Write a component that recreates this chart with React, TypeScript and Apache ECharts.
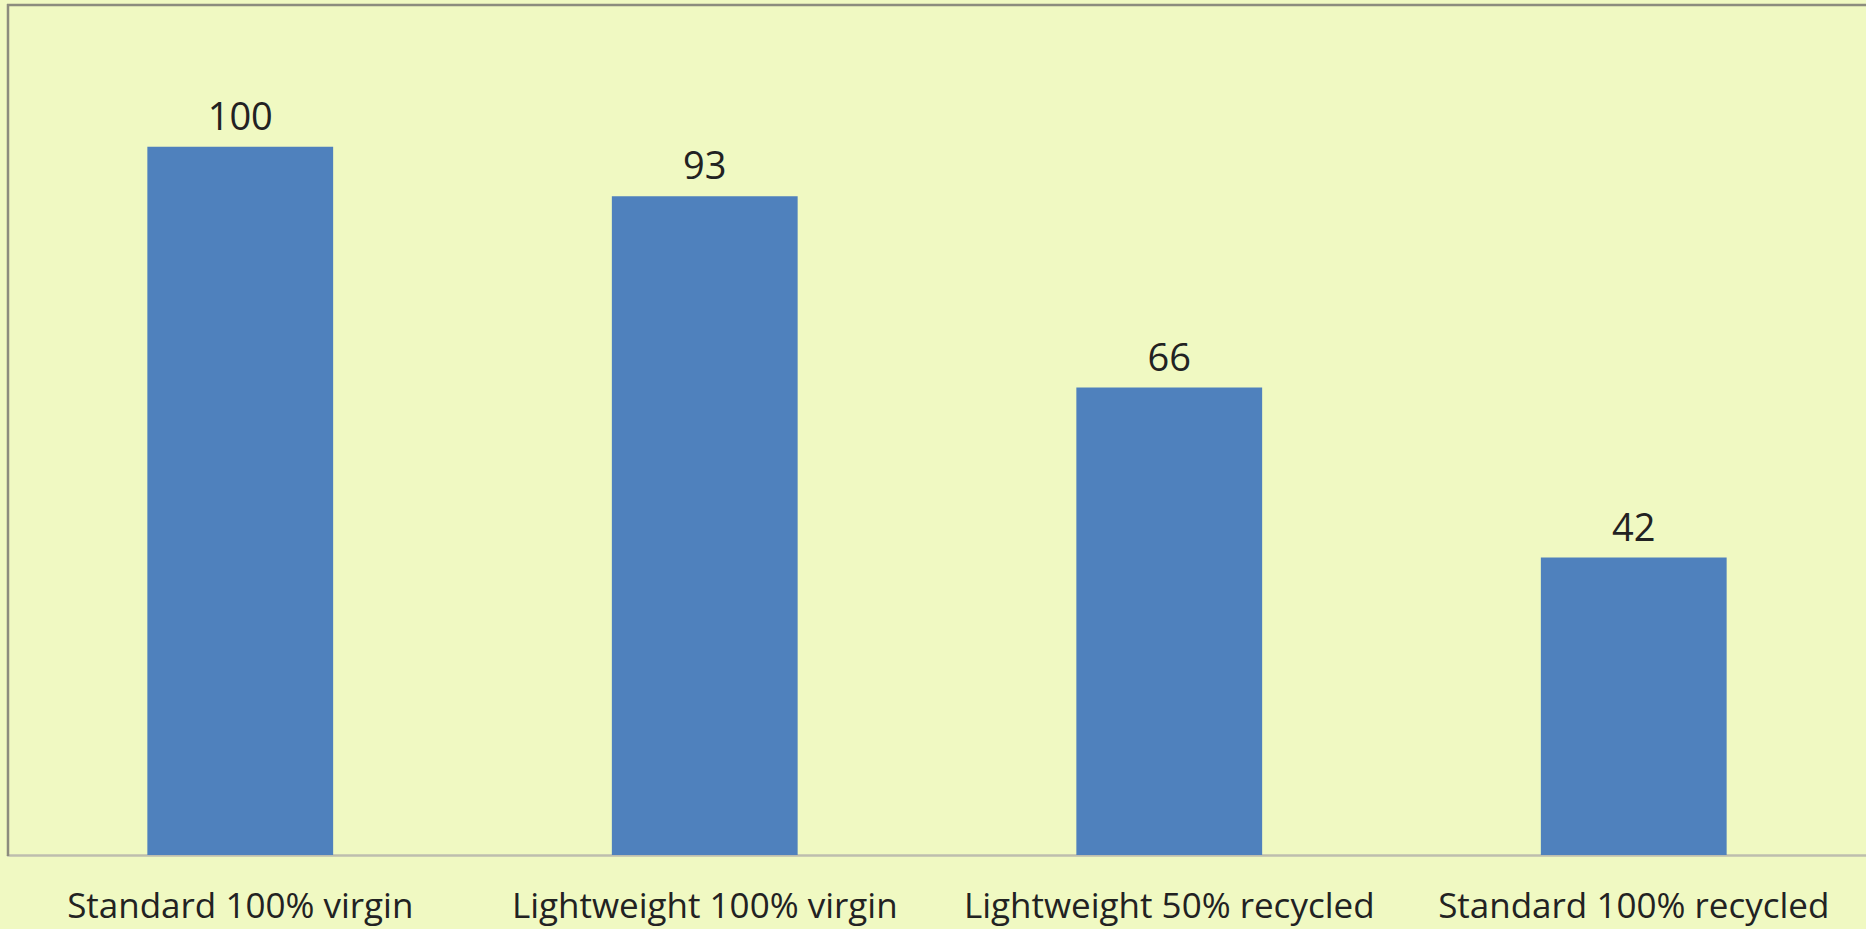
import React, { useEffect, useRef } from "react";
import * as echarts from "echarts";

const categories = [
  "Standard 100% virgin",
  "Lightweight 100% virgin",
  "Lightweight 50% recycled",
  "Standard 100% recycled",
];
const values = [100, 93, 66, 42];
const yMax = 120;

export default function App() {
  const ref = useRef<HTMLDivElement>(null);
  useEffect(() => {
    document.body.style.margin = "0";
    const chart = echarts.init(ref.current!, null, { renderer: "svg" });
    chart.setOption({
      animation: false,
      backgroundColor: "#F0F9C2",
      grid: {
        left: 8,
        top: 5,
        right: -3,
        height: 850,
        show: false,
      },
      graphic: [
        {
          type: "line",
          shape: { x1: 8, y1: 4, x2: 8, y2: 856 },
          style: { stroke: "#8C8C7E", lineWidth: 2.5 },
          z: 10,
        },
        {
          type: "line",
          shape: { x1: 7, y1: 5, x2: 1866, y2: 5 },
          style: { stroke: "#8C8C7E", lineWidth: 2.5 },
          z: 10,
        },
      ],
      xAxis: {
        type: "category",
        data: categories,
        axisLine: { show: true, lineStyle: { color: "#BEBEAE", width: 2.5 } },
        axisTick: { show: false },
        axisLabel: {
          color: "#222",
          fontFamily: "Open Sans",
          fontSize: 35,
          lineHeight: 35,
          margin: 32,
          interval: 0,
        },
      },
      yAxis: {
        type: "value",
        min: 0,
        max: yMax,
        axisLine: { show: false },
        axisTick: { show: false },
        axisLabel: { show: false },
        splitLine: { show: false },
      },
      series: [
        {
          type: "bar",
          data: values,
          barWidth: "40%",
          itemStyle: { color: "#4F81BD" },
          label: {
            show: true,
            position: "top",
            distance: 13,
            color: "#222",
            fontFamily: "Open Sans",
            fontSize: 38,
          },
        },
      ],
    });
    return () => chart.dispose();
  }, []);
  return <div ref={ref} style={{ width: 1866, height: 929 }} />;
}
